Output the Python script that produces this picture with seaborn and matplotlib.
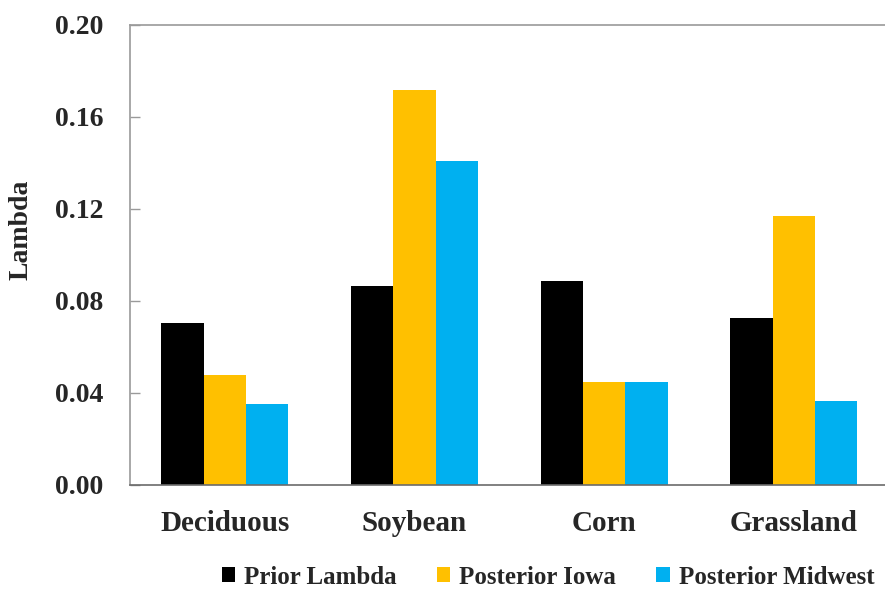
import numpy as np
import pandas as pd
import matplotlib
matplotlib.use("Agg")
import matplotlib.pyplot as plt
import seaborn as sns
from matplotlib.patches import Patch

# Data
categories = ["Deciduous", "Soybean", "Corn", "Grassland"]
series = ["Prior Lambda", "Posterior Iowa", "Posterior Midwest"]
prior_lambda = [0.0704, 0.0865, 0.0887, 0.0726]
posterior_iowa = [0.0480, 0.1717, 0.0448, 0.1168]
posterior_midwest = [0.0352, 0.1406, 0.0448, 0.0365]

COLORS = {
    "Prior Lambda": "#000000",
    "Posterior Iowa": "#FFC000",
    "Posterior Midwest": "#00B0F0",
}

sns.set_theme(style="white")
plt.rcParams["font.family"] = ["Liberation Serif", "DejaVu Serif"]
plt.rcParams["font.weight"] = "bold"

df = pd.DataFrame({
    "category": categories * 3,
    "series": [s for s in series for _ in categories],
    "value": prior_lambda + posterior_iowa + posterior_midwest,
})

fig = plt.figure(figsize=(8.85, 5.9), dpi=100)
ax = fig.add_axes([0.147, 0.178, 0.853, 0.780])

sns.barplot(
    data=df, x="category", y="value", hue="series",
    hue_order=series, order=categories, palette=COLORS,
    width=0.67, gap=0, saturation=1, ax=ax, legend=False,
    linewidth=0,
)

ax.set_xlim(-0.5, 3.48)
ax.set_ylim(0, 0.20)
ax.set_yticks(np.arange(0, 0.201, 0.04))
ax.set_yticklabels([f"{v:.2f}" for v in np.arange(0, 0.201, 0.04)])

ax.tick_params(axis="y", direction="in", length=7, width=1, color="#9a9a9a",
               pad=19, labelsize=20, left=True)
ax.tick_params(axis="x", length=0, pad=18, labelsize=21)
for lbl in ax.get_xticklabels() + ax.get_yticklabels():
    lbl.set_fontweight("bold")

ax.set_xlabel("")
ax.set_ylabel("Lambda", fontsize=20, fontweight="bold")
ax.yaxis.set_label_coords(-0.128, 0.554)

for side in ["left", "top"]:
    ax.spines[side].set_color("#9a9a9a")
    ax.spines[side].set_linewidth(1.2)
ax.spines["bottom"].set_color("#6b6b6b")
ax.spines["bottom"].set_linewidth(1.2)
ax.spines["right"].set_visible(False)

handles = [Patch(facecolor=COLORS[s], edgecolor="none", label=s) for s in series]
fig.legend(
    handles=handles, loc="center", bbox_to_anchor=(0.619, 0.022), ncol=3,
    frameon=False, handlelength=0.55, handleheight=0.55, handletextpad=0.35,
    columnspacing=1.6, prop={"family": "Liberation Serif", "weight": "bold", "size": 18},
)

fig.savefig("out.png", dpi=100)
